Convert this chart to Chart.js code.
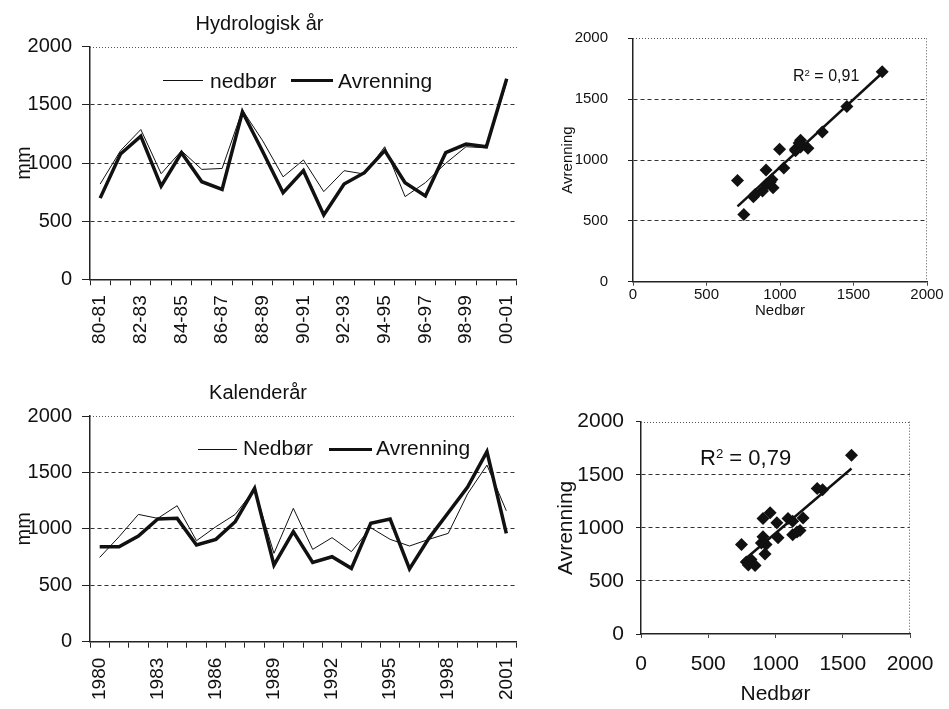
<!DOCTYPE html>
<html>
<head>
<meta charset="utf-8">
<script src="https://cdn.jsdelivr.net/npm/chart.js@4.4.1/dist/chart.umd.min.js"></script>
<style>
  body { margin: 0; background: #fff; width: 949px; height: 709px; position: relative; overflow: hidden;
         font-family: "Liberation Sans", Arial, sans-serif; color: #111; }
  canvas { position: absolute; }
  .txt { position: absolute; white-space: nowrap; line-height: 1; }
  .ln { position: absolute; background: #111; }
  .sup { font-size: 60%; position: relative; top: -0.55em; }
</style>
</head>
<body>
<canvas id="hydro" width="540" height="360" style="left:0;top:0"></canvas>
<canvas id="hydroXY" width="404" height="330" style="left:545px;top:0"></canvas>
<canvas id="cal" width="540" height="349" style="left:0;top:360px"></canvas>
<canvas id="calXY" width="404" height="349" style="left:545px;top:360px"></canvas>

<!-- legends -->
<div class="ln" style="left:163px;top:80px;width:40px;height:1px"></div>
<div class="txt" style="left:210px;top:69.5px;font-size:21px">nedbør</div>
<div class="ln" style="left:291px;top:78.5px;width:42px;height:3.5px"></div>
<div class="txt" style="left:338px;top:69.5px;font-size:21px">Avrenning</div>

<div class="ln" style="left:198px;top:449px;width:39px;height:1px"></div>
<div class="txt" style="left:243px;top:436.5px;font-size:21px">Nedbør</div>
<div class="ln" style="left:329px;top:447.5px;width:43px;height:3.5px"></div>
<div class="txt" style="left:376px;top:436.5px;font-size:21px">Avrenning</div>

<!-- R² labels -->
<div class="txt" style="left:793px;top:68px;font-size:16px">R<span class="sup">2</span> = 0,91</div>
<div class="txt" style="left:700px;top:447px;font-size:22px">R<span class="sup">2</span> = 0,79</div>

<script>
// ---- data ----
const hydroLabels = ["80-81", "81-82", "82-83", "83-84", "84-85", "85-86", "86-87", "87-88", "88-89", "89-90",
  "90-91", "91-92", "92-93", "93-94", "94-95", "95-96", "96-97", "97-98", "98-99", "99-00", "00-01"];
const hydroNedbor = [819, 1106, 1288, 908, 1105, 945, 953, 1455, 1190, 881,
  1026, 754, 934, 905, 1140, 711, 831, 997, 1140, 1130, 1695];
const hydroAvrenning = [698, 1077, 1231, 801, 1088, 839, 773, 1440, 1097, 745,
  934, 553, 819, 917, 1106, 831, 716, 1089, 1163, 1140, 1725];

const calLabels = ["1980", "1981", "1982", "1983", "1984", "1985", "1986", "1987", "1988", "1989", "1990",
  "1991", "1992", "1993", "1994", "1995", "1996", "1997", "1998", "1999", "2000", "2001"];
const calNedbor = [747, 930, 1128, 1093, 1205, 895, 1019, 1128, 1350, 783, 1182,
  818, 922, 798, 1010, 907, 848, 907, 960, 1310, 1565, 1160];
const calAvrenning = [842, 842, 936, 1087, 1093, 857, 907, 1063, 1359, 679, 975,
  703, 753, 650, 1049, 1087, 645, 916, 1143, 1370, 1684, 960];

const axisMin = 0, axisMax = 2000, axisStep = 500;

const FONT = '"Liberation Sans", Arial, sans-serif';
const INK = "#111";

// dotted box edges on top (and right) of the plot area
const frame = {
  id: "frame",
  beforeDatasetsDraw(chart, args, opts) {
    const { ctx, chartArea: a } = chart;
    ctx.save();
    ctx.strokeStyle = "#555";
    ctx.lineWidth = 1;
    ctx.setLineDash([1, 2]);
    ctx.beginPath();
    ctx.moveTo(a.left, Math.round(a.top) + 0.5);
    ctx.lineTo(a.right, Math.round(a.top) + 0.5);
    if (opts.right) {
      ctx.moveTo(Math.round(a.right) - 0.5, a.top);
      ctx.lineTo(Math.round(a.right) - 0.5, a.bottom);
    }
    ctx.stroke();
    ctx.restore();
  }
};

const fixW = w => s => { s.width = w; };
const fixH = h => s => { s.height = h; };
const plain = v => String(v);
const gridColor = c => (c.tick && (c.tick.value === axisMin || c.tick.value === axisMax)) ? "rgba(0,0,0,0)" : "#333";

function lineChart(id, labels, nedbor, avrenning, every, g) {
  new Chart(document.getElementById(id), {
    type: "line",
    data: {
      labels,
      datasets: [
        { label: "Nedbør", data: nedbor, borderColor: INK, borderWidth: 1, pointRadius: 0, tension: 0 },
        { label: "Avrenning", data: avrenning, borderColor: INK, borderWidth: 3.5, pointRadius: 0, tension: 0 }
      ]
    },
    options: {
      responsive: false,
      animation: false,
      events: [],
      layout: { padding: { left: 0, right: g.padRight, top: 0, bottom: 0 } },
      plugins: {
        legend: { display: false },
        tooltip: { enabled: false },
        title: {
          display: true, text: g.title, color: INK,
          font: { family: FONT, size: 20, weight: "normal" },
          padding: { top: g.titleTop, bottom: g.titleBottom }
        },
        frame: { right: false }
      },
      scales: {
        x: {
          offset: true,
          afterFit: fixH(g.xH),
          grid: { offset: true, drawOnChartArea: false, tickLength: 6, tickColor: "#222", tickWidth: 1 },
          border: { color: "#222", width: 1.5 },
          ticks: {
            autoSkip: false, maxRotation: 90, minRotation: 90, padding: 10, color: INK,
            font: { family: FONT, size: 19 },
            callback: (v, i) => (i % every === 0 ? labels[i] : "")
          }
        },
        y: {
          min: axisMin, max: axisMax,
          afterFit: fixW(90),
          grid: { color: gridColor, tickColor: "#222", tickLength: 8, tickBorderDash: [] },
          border: { color: "#222", width: 1.5, dash: [4, 3] },
          ticks: { stepSize: axisStep, padding: 10, color: INK, font: { family: FONT, size: 20 }, callback: plain },
          title: {
            display: true, text: "mm", color: INK,
            font: { family: FONT, size: 20 }, padding: { top: 12, bottom: 0 }
          }
        }
      }
    },
    plugins: [frame]
  });
}

function linearFit(xs, ys) {
  const n = xs.length;
  const mx = xs.reduce((a, b) => a + b, 0) / n;
  const my = ys.reduce((a, b) => a + b, 0) / n;
  let sxy = 0, sxx = 0;
  xs.forEach((x, i) => { sxy += (x - mx) * (ys[i] - my); sxx += (x - mx) * (x - mx); });
  const k = sxy / sxx;
  return x => my + k * (x - mx);
}

function scatterChart(id, nedbor, avrenning, g) {
  const pts = nedbor.map((x, i) => ({ x, y: avrenning[i] }));
  const fit = linearFit(nedbor, avrenning);
  const x0 = Math.min(...nedbor), x1 = Math.max(...nedbor);
  const f = { family: FONT, size: g.font };
  new Chart(document.getElementById(id), {
    type: "scatter",
    data: {
      datasets: [
        { type: "line", data: [{ x: x0, y: fit(x0) }, { x: x1, y: fit(x1) }],
          borderColor: INK, borderWidth: 2.5, pointRadius: 0 },
        { data: pts, pointStyle: "rectRot", pointRadius: g.r, backgroundColor: INK, borderWidth: 0 }
      ]
    },
    options: {
      responsive: false,
      animation: false,
      events: [],
      layout: { padding: { left: 0, right: g.padRight, top: g.padTop, bottom: 0 } },
      plugins: { legend: { display: false }, tooltip: { enabled: false }, frame: { right: true } },
      scales: {
        x: {
          type: "linear", min: axisMin, max: axisMax,
          afterFit: fixH(g.xH),
          grid: { drawOnChartArea: false, tickLength: 4, tickColor: "#444" },
          border: { color: "#222", width: 1.5 },
          ticks: { stepSize: axisStep, padding: g.xPad, color: INK, font: f, callback: plain },
          title: { display: true, text: "Nedbør", color: INK, font: f, padding: { top: 0, bottom: g.xTitleBottom } }
        },
        y: {
          min: axisMin, max: axisMax,
          afterFit: fixW(g.yW),
          grid: { color: gridColor, tickColor: "#222", tickLength: 5, tickBorderDash: [] },
          border: { color: "#222", width: 1.5, dash: [4, 3] },
          ticks: { stepSize: axisStep, padding: g.yPad, color: INK, font: f, callback: plain },
          title: { display: true, text: "Avrenning", color: INK, font: f, padding: { top: g.yTitleTop, bottom: 0 } }
        }
      }
    },
    plugins: [frame]
  });
}

lineChart("hydro", hydroLabels, hydroNedbor, hydroAvrenning, 2,
  { title: "Hydrologisk år", padRight: 21, titleTop: 12, titleBottom: 10.7, xH: 80.7 });
lineChart("cal", calLabels, calNedbor, calAvrenning, 3,
  { title: "Kalenderår", padRight: 24, titleTop: 21, titleBottom: 11, xH: 67.3 });

scatterChart("hydroXY", hydroNedbor, hydroAvrenning,
  { font: 15, r: 6.5, padRight: 22, padTop: 38.3, xH: 48.3, yW: 88, xPad: 0, yPad: 20, xTitleBottom: 10, yTitleTop: 14 });
scatterChart("calXY", calNedbor, calAvrenning,
  { font: 21, r: 6.5, padRight: 39, padTop: 61.7, xH: 75, yW: 96, xPad: 14, yPad: 12, xTitleBottom: 2, yTitleTop: 9 });
</script>
</body>
</html>
